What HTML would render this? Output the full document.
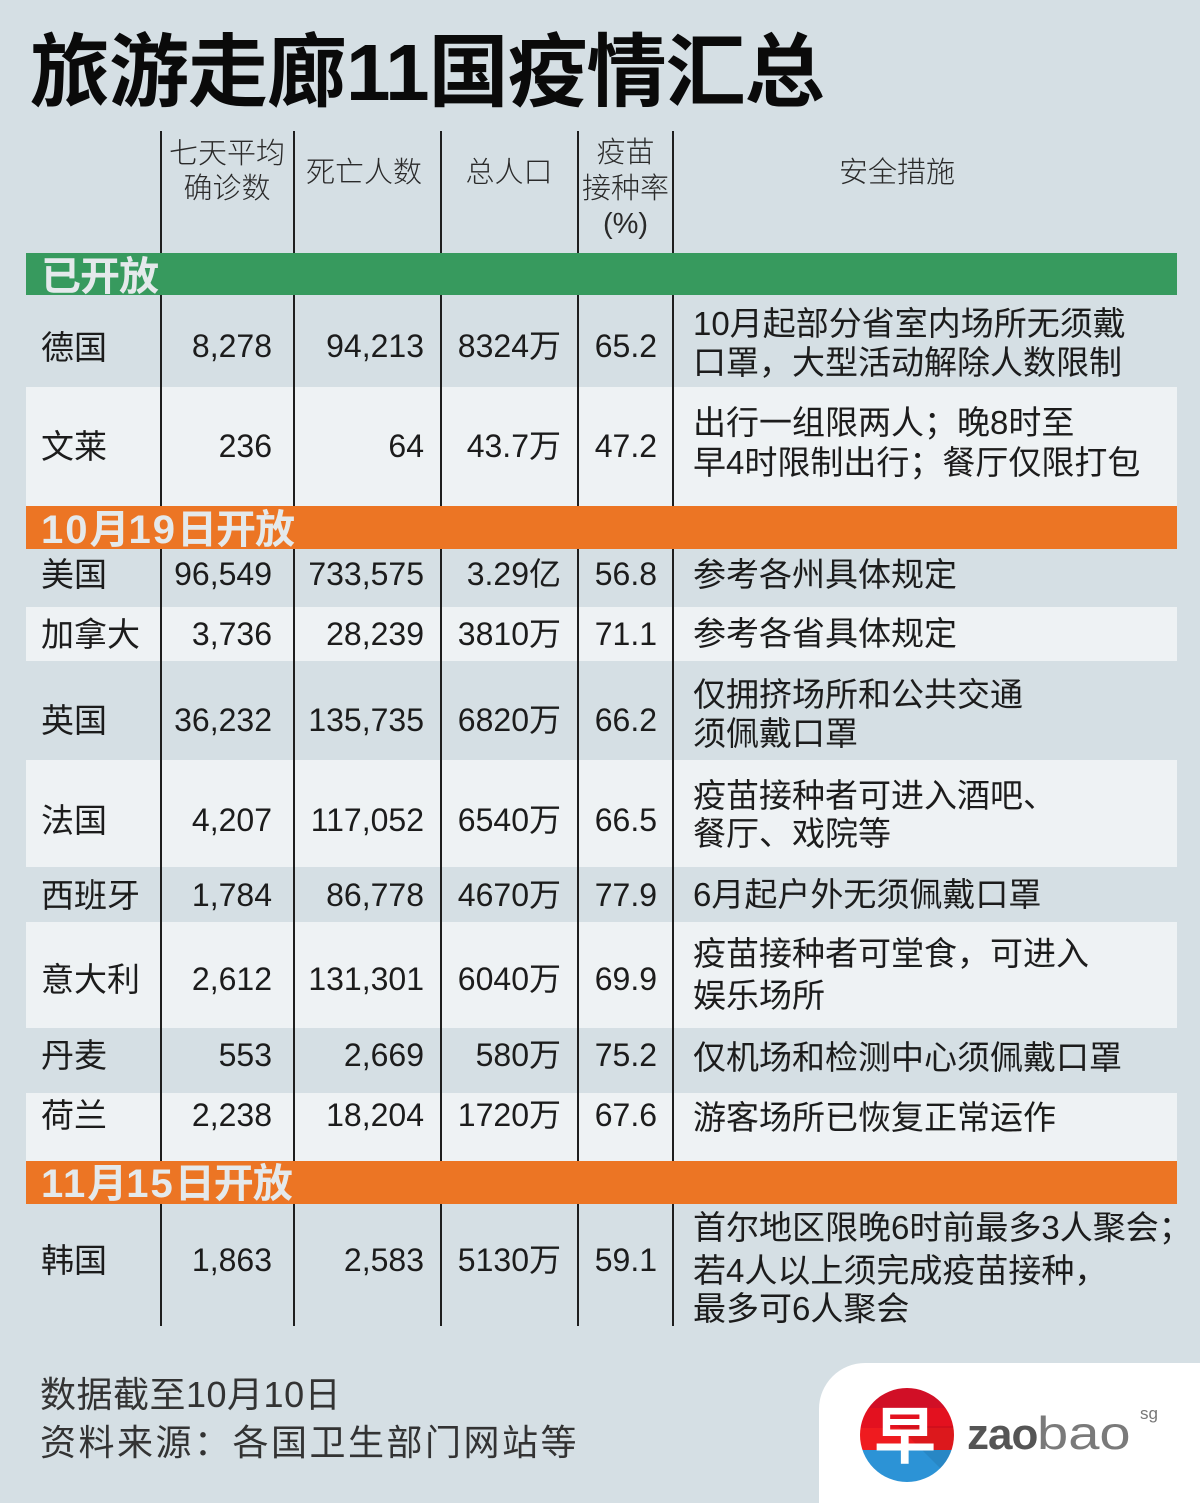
<!DOCTYPE html>
<html><head><meta charset="utf-8">
<style>
html,body{margin:0;padding:0;}
body{width:1200px;height:1499px;background:#d5dfe4;position:relative;overflow:hidden;font-family:"Liberation Sans","Noto Sans CJK SC",sans-serif;color:#1c1c1c;}
.a{position:absolute;white-space:nowrap;}
.t{position:absolute;white-space:nowrap;font-size:33px;line-height:40px;}
.n{position:absolute;white-space:nowrap;font-size:32px;line-height:40px;text-align:right;}
.h{position:absolute;white-space:nowrap;font-size:29px;line-height:35px;text-align:center;color:#2a2a2a;font-weight:300;}
.row{position:absolute;left:26px;width:1151px;background:#eef2f4;}
.vl{position:absolute;top:131px;height:1195px;width:1.5px;background:#1e1e1e;}
.bar{position:absolute;left:26px;width:1151px;height:43px;}
.sec{position:absolute;left:41px;font-size:40px;line-height:40px;font-weight:bold;color:#e4e9eb;white-space:nowrap;letter-spacing:-1px;}
.sec b{letter-spacing:2px;}
.m{left:693px;}
</style></head><body>

<div class="a" style="left:30px;top:33px;font-size:80px;line-height:80px;font-weight:bold;color:#0a0a0a;letter-spacing:-1px;">旅游走廊11国疫情汇总</div>

<!-- light rows -->
<div class="row" style="top:387px;height:119px;"></div>
<div class="row" style="top:607px;height:54px;"></div>
<div class="row" style="top:760px;height:107px;"></div>
<div class="row" style="top:922px;height:106px;"></div>
<div class="row" style="top:1093px;height:68px;"></div>

<!-- vertical lines -->
<div class="vl" style="left:160px;"></div>
<div class="vl" style="left:293px;"></div>
<div class="vl" style="left:440px;"></div>
<div class="vl" style="left:577px;"></div>
<div class="vl" style="left:672px;"></div>

<!-- bars -->
<div class="bar" style="top:253px;height:42px;background:#379a5e;"></div>
<div class="bar" style="top:506px;background:#ec7524;"></div>
<div class="bar" style="top:1161px;background:#ec7524;"></div>

<div class="sec" style="top:257px;">已开放</div>
<div class="sec" style="top:510px;"><b>10</b>月<b>19</b>日开放</div>
<div class="sec" style="top:1164px;"><b>11</b>月<b>15</b>日开放</div>

<!-- header -->
<div class="h" style="left:161px;width:132px;top:137px;">七天平均</div>
<div class="h" style="left:161px;width:132px;top:172px;">确诊数</div>
<div class="h" style="left:294px;width:140px;top:156px;">死亡人数</div>
<div class="h" style="left:441px;width:136px;top:156px;">总人口</div>
<div class="h" style="left:578px;width:95px;top:136px;">疫苗</div>
<div class="h" style="left:578px;width:95px;top:172px;">接种率</div>
<div class="h" style="left:578px;width:95px;top:207px;">(%)</div>
<div class="h" style="left:839px;top:156px;text-align:left;">安全措施</div>

<!-- Germany -->
<div class="t" style="left:41px;top:328px;">德国</div>
<div class="n" style="right:928px;top:326px;">8,278</div>
<div class="n" style="right:776px;top:326px;">94,213</div>
<div class="n" style="right:639px;top:326px;">8324万</div>
<div class="n" style="right:543px;top:326px;">65.2</div>
<div class="t m" style="top:304px;">10月起部分省室内场所无须戴</div>
<div class="t m" style="top:343px;">口罩，大型活动解除人数限制</div>

<!-- Brunei -->
<div class="t" style="left:41px;top:427px;">文莱</div>
<div class="n" style="right:928px;top:426px;">236</div>
<div class="n" style="right:776px;top:426px;">64</div>
<div class="n" style="right:639px;top:426px;">43.7万</div>
<div class="n" style="right:543px;top:426px;">47.2</div>
<div class="t m" style="top:403px;">出行一组限两人；晚8时至</div>
<div class="t m" style="top:443px;">早4时限制出行；餐厅仅限打包</div>

<!-- US -->
<div class="t" style="left:41px;top:555px;">美国</div>
<div class="n" style="right:928px;top:554px;">96,549</div>
<div class="n" style="right:776px;top:554px;">733,575</div>
<div class="n" style="right:639px;top:554px;">3.29亿</div>
<div class="n" style="right:543px;top:554px;">56.8</div>
<div class="t m" style="top:555px;">参考各州具体规定</div>

<!-- Canada -->
<div class="t" style="left:41px;top:615px;">加拿大</div>
<div class="n" style="right:928px;top:614px;">3,736</div>
<div class="n" style="right:776px;top:614px;">28,239</div>
<div class="n" style="right:639px;top:614px;">3810万</div>
<div class="n" style="right:543px;top:614px;">71.1</div>
<div class="t m" style="top:614px;">参考各省具体规定</div>

<!-- UK -->
<div class="t" style="left:41px;top:701px;">英国</div>
<div class="n" style="right:928px;top:700px;">36,232</div>
<div class="n" style="right:776px;top:700px;">135,735</div>
<div class="n" style="right:639px;top:700px;">6820万</div>
<div class="n" style="right:543px;top:700px;">66.2</div>
<div class="t m" style="top:675px;">仅拥挤场所和公共交通</div>
<div class="t m" style="top:714px;">须佩戴口罩</div>

<!-- France -->
<div class="t" style="left:41px;top:801px;">法国</div>
<div class="n" style="right:928px;top:800px;">4,207</div>
<div class="n" style="right:776px;top:800px;">117,052</div>
<div class="n" style="right:639px;top:800px;">6540万</div>
<div class="n" style="right:543px;top:800px;">66.5</div>
<div class="t m" style="top:776px;">疫苗接种者可进入酒吧、</div>
<div class="t m" style="top:814px;">餐厅、戏院等</div>

<!-- Spain -->
<div class="t" style="left:41px;top:876px;">西班牙</div>
<div class="n" style="right:928px;top:875px;">1,784</div>
<div class="n" style="right:776px;top:875px;">86,778</div>
<div class="n" style="right:639px;top:875px;">4670万</div>
<div class="n" style="right:543px;top:875px;">77.9</div>
<div class="t m" style="top:875px;">6月起户外无须佩戴口罩</div>

<!-- Italy -->
<div class="t" style="left:41px;top:960px;">意大利</div>
<div class="n" style="right:928px;top:959px;">2,612</div>
<div class="n" style="right:776px;top:959px;">131,301</div>
<div class="n" style="right:639px;top:959px;">6040万</div>
<div class="n" style="right:543px;top:959px;">69.9</div>
<div class="t m" style="top:934px;">疫苗接种者可堂食，可进入</div>
<div class="t m" style="top:976px;">娱乐场所</div>

<!-- Denmark -->
<div class="t" style="left:41px;top:1036px;">丹麦</div>
<div class="n" style="right:928px;top:1035px;">553</div>
<div class="n" style="right:776px;top:1035px;">2,669</div>
<div class="n" style="right:639px;top:1035px;">580万</div>
<div class="n" style="right:543px;top:1035px;">75.2</div>
<div class="t m" style="top:1038px;">仅机场和检测中心须佩戴口罩</div>

<!-- Netherlands -->
<div class="t" style="left:41px;top:1096px;">荷兰</div>
<div class="n" style="right:928px;top:1095px;">2,238</div>
<div class="n" style="right:776px;top:1095px;">18,204</div>
<div class="n" style="right:639px;top:1095px;">1720万</div>
<div class="n" style="right:543px;top:1095px;">67.6</div>
<div class="t m" style="top:1098px;">游客场所已恢复正常运作</div>

<!-- Korea -->
<div class="t" style="left:41px;top:1241px;">韩国</div>
<div class="n" style="right:928px;top:1240px;">1,863</div>
<div class="n" style="right:776px;top:1240px;">2,583</div>
<div class="n" style="right:639px;top:1240px;">5130万</div>
<div class="n" style="right:543px;top:1240px;">59.1</div>
<div class="t m" style="top:1208px;">首尔地区限晚6时前最多3人聚会<span style="font-feature-settings:'halt';">；</span></div>
<div class="t m" style="top:1251px;">若4人以上须完成疫苗接种，</div>
<div class="t m" style="top:1289px;">最多可6人聚会</div>

<!-- footer -->
<div class="a" style="left:40px;top:1373px;font-size:36px;line-height:44px;color:#333;letter-spacing:0.5px;">数据截至10月10日</div>
<div class="a" style="left:40px;top:1421px;font-size:36px;line-height:44px;color:#333;letter-spacing:2.5px;">资料来源：各国卫生部门网站等</div>

<!-- logo -->
<div class="a" style="left:819px;top:1363px;width:400px;height:140px;background:#ffffff;border-top-left-radius:46px;"></div>
<svg class="a" style="left:858px;top:1386px;" width="98" height="98" viewBox="0 0 98 98">
  <defs><clipPath id="c"><circle cx="49" cy="49" r="47"/></clipPath></defs>
  <g clip-path="url(#c)">
    <rect x="0" y="0" width="98" height="22" fill="#d10f26"/>
    <rect x="0" y="22" width="98" height="20" fill="#e3111f"/>
    <rect x="0" y="42" width="98" height="22" fill="#ef1b1f"/>
    <rect x="0" y="64" width="98" height="34" fill="#2c93d6"/>
    <polygon points="40,40 98,98 98,40" fill="#000" opacity="0.08"/>
  </g>
  <text x="47" y="72" text-anchor="middle" font-family="Noto Sans CJK SC, sans-serif" font-weight="bold" font-size="62" fill="#ffffff">早</text>
</svg>
<div class="a" style="left:967px;top:1411px;font-size:44px;line-height:44px;color:#555;"><span style="font-weight:bold;letter-spacing:-1px;">zao</span><span style="display:inline-block;color:#7a7a7a;font-size:46px;transform:scaleX(1.22);transform-origin:0 50%;">bao</span></div>
<div class="a" style="left:1140px;top:1405px;font-size:17px;line-height:17px;color:#777;">sg</div>

</body></html>
